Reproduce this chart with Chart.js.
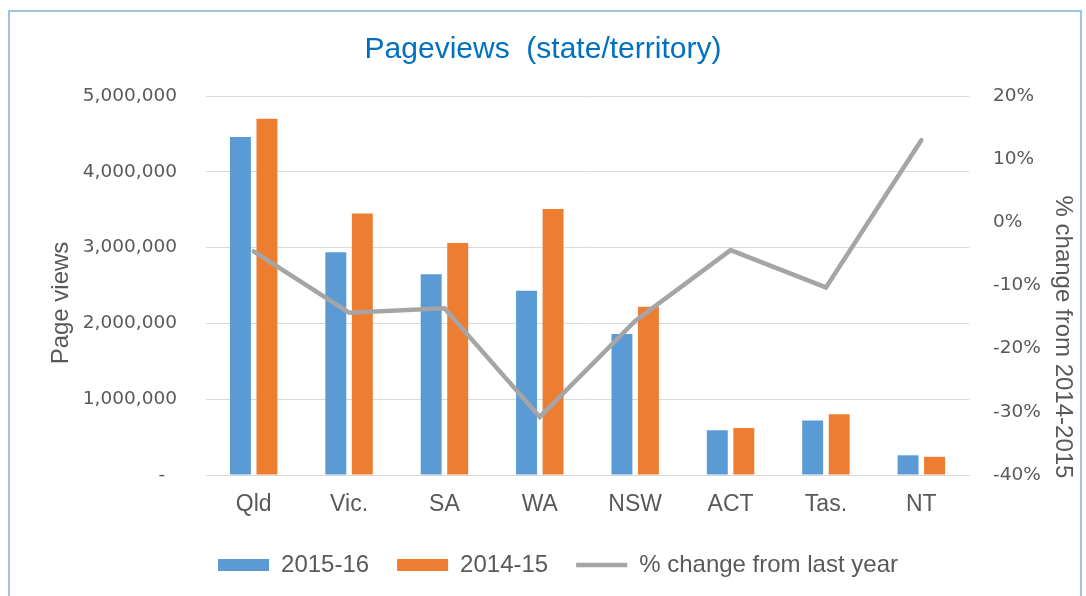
<!DOCTYPE html>
<html>
<head>
<meta charset="utf-8">
<script src="https://cdn.jsdelivr.net/npm/chart.js@4/dist/chart.umd.min.js"></script>
<style>
  html, body { margin: 0; padding: 0; background: #ffffff; }
  #wrap { position: relative; width: 1086px; height: 596px; overflow: hidden; }
  #frame { position: absolute; left: 8px; top: 10px; width: 1074px; height: 620px; border: 2px solid #9DC3E6; box-sizing: border-box; pointer-events: none; }
  canvas { position: absolute; left: 0; top: 0; }
</style>
</head>
<body>
<div id="wrap">
  <canvas id="c" width="1086" height="596"></canvas>
  <div id="frame"></div>
</div>
<script>
const categories = ['Qld', 'Vic.', 'SA', 'WA', 'NSW', 'ACT', 'Tas.', 'NT'];
const views2015_16 = [4460000, 2940000, 2650000, 2430000, 1860000, 590000, 720000, 260000];
const views2014_15 = [4700000, 3450000, 3060000, 3510000, 2220000, 620000, 800000, 240000];
const pctChange = [-4.6, -14.3, -13.6, -30.8, -15.6, -4.4, -10.3, 13.0];
const seriesNames = ['2015-16', '2014-15', '% change from last year'];
const chartTitle = 'Pageviews  (state/territory)';
const leftAxisTitle = 'Page views';
const rightAxisTitle = '% change from 2014-2015';

const textColor = '#595959';
const gridColor = '#D9D9D9';

const axisTitlePlugin = {
  id: 'axisTitles',
  afterLayout(chart) {
    if (chart.legend) {
      chart.legend.left += 30;
      chart.legend.top = 525;
    }
  },
  afterDraw(chart) {
    const ctx = chart.ctx;
    ctx.save();
    ctx.fillStyle = textColor;
    ctx.font = '24px "Liberation Sans", Arial, sans-serif';
    ctx.textAlign = 'center';
    ctx.textBaseline = 'middle';
    ctx.save();
    ctx.translate(61, 303);
    ctx.rotate(-Math.PI / 2);
    ctx.fillText(leftAxisTitle, 0, 0);
    ctx.restore();
    ctx.save();
    ctx.translate(1063, 337);
    ctx.rotate(Math.PI / 2);
    ctx.fillText(rightAxisTitle, 0, 0);
    ctx.restore();
    ctx.restore();
  }
};

new Chart(document.getElementById('c'), {
  data: {
    labels: categories,
    datasets: [
      {
        type: 'bar', label: seriesNames[0], data: views2015_16, yAxisID: 'y',
        backgroundColor: '#5B9BD5', borderWidth: 0, order: 1, pointStyle: 'rect',
        categoryPercentage: 0.556, barPercentage: 0.79
      },
      {
        type: 'bar', label: seriesNames[1], data: views2014_15, yAxisID: 'y',
        backgroundColor: '#ED7D31', borderWidth: 0, order: 1, pointStyle: 'rect',
        categoryPercentage: 0.556, barPercentage: 0.79
      },
      {
        type: 'line', label: seriesNames[2], data: pctChange, yAxisID: 'y1',
        borderColor: '#A5A5A5', backgroundColor: '#A5A5A5', borderWidth: 4.5,
        pointRadius: 0, pointHoverRadius: 0, tension: 0, order: 0,
        borderCapStyle: 'round', borderJoinStyle: 'miter', pointStyle: 'line'
      }
    ]
  },
  options: {
    responsive: false,
    animation: false,
    devicePixelRatio: 1,
    layout: { padding: { left: 0, right: 0, top: 0, bottom: 0 } },
    plugins: {
      title: {
        display: true, text: chartTitle, color: '#0070C0',
        font: { family: '"Liberation Sans", Arial, sans-serif', size: 30, weight: 'normal', lineHeight: 1.2 },
        padding: { top: 32, bottom: 28 }
      },
      legend: {
        display: true, position: 'bottom',
        labels: {
          color: textColor,
          font: { family: '"Liberation Sans", Arial, sans-serif', size: 24 },
          usePointStyle: true, pointStyleWidth: 51, boxWidth: 51, boxHeight: 12,
          padding: 28,
          sort: (a, b) => a.datasetIndex - b.datasetIndex
        }
      },
      tooltip: { enabled: false }
    },
    scales: {
      x: {
        type: 'category',
        grid: { display: false, drawTicks: false },
        border: { display: true, color: gridColor, width: 1 },
        ticks: { color: textColor, padding: 16, font: { family: '"Liberation Sans", Arial, sans-serif', size: 23 }, maxRotation: 0, autoSkip: false },
        afterFit(scale) { scale.height = 59; }
      },
      y: {
        type: 'linear', position: 'left', min: 0, max: 5000000,
        grid: { color: gridColor, lineWidth: 1, drawTicks: false },
        border: { display: false },
        ticks: {
          stepSize: 1000000, padding: 29, color: textColor,
          font: { family: '"DejaVu Sans", Verdana, sans-serif', size: 18.5 },
          callback: (v) => v === 0 ? '-  ' : String(v).replace(/\B(?=(\d{3})+(?!\d))/g, ',')
        },
        afterFit(scale) { scale.width = 206; }
      },
      y1: {
        type: 'linear', position: 'right', min: -40, max: 20,
        grid: { display: false, drawTicks: false },
        border: { display: false },
        ticks: {
          stepSize: 10, padding: 24, color: textColor,
          font: { family: '"DejaVu Sans", Verdana, sans-serif', size: 18.5 },
          callback: (v) => Math.round(v) + '%'
        },
        afterFit(scale) { scale.width = 117; }
      }
    }
  },
  plugins: [axisTitlePlugin]
});
</script>
</body>
</html>
